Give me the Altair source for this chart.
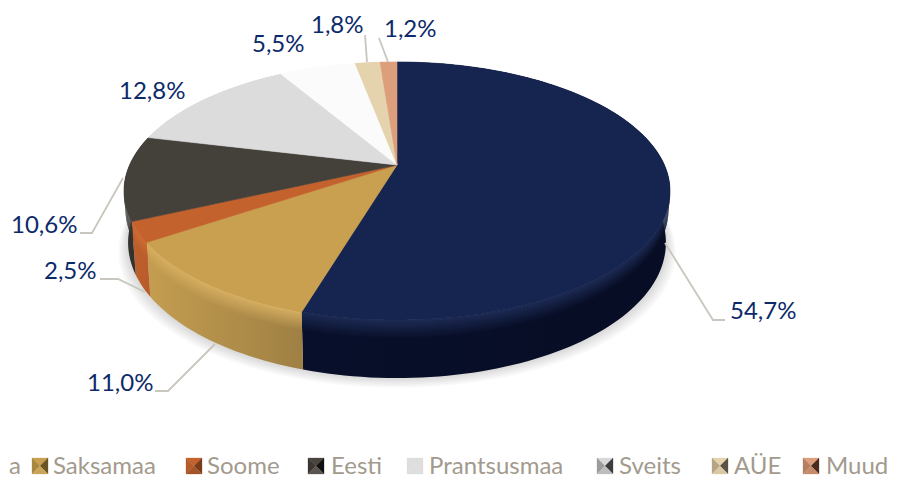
import math
import altair as alt
import pandas as pd

# --- chart values, clockwise from twelve o'clock
names = ["", "Saksamaa", "Soome", "Eesti", "Prantsusmaa", "Sveits", "AÜE", "Muud"]
shares = [54.7, 11.0, 2.5, 10.6, 12.8, 5.5, 1.8, 1.2]

# --- colours
face = ["#15254f", "#c9a050", "#c4622d", "#44403a", "#dcdcdc", "#fbfbfb", "#e5d3ae", "#dd9e7c"]
rim = ["#1d2b55", "#d8b062", "#cf6d36", "#44403a", "#e4e4e4", "#ffffff", "#eadabb", "#e3a888"]
wall_a = ["#080f2a", "#c49d50", "#bf602c", "#33302b", "#bdbdbd", "#dddddd", "#cdbb97", "#c48a6a"]
wall_b = ["#070d24", "#9f8044", "#b85c2b", "#38342f", "#bdbdbd", "#dddddd", "#cdbb97", "#c48a6a"]
facet_top = ["#15254f", "#c9a050", "#c4622d", "#4a453f", "#dedede", "#d8d8d8", "#e5d3ae", "#dd9e7c"]
facet_left = ["#15254f", "#a8873f", "#b55c2a", "#3a3632", "#dedede", "#9c9c9c", "#b5a586", "#b57f61"]
facet_right = ["#0b1330", "#6b5426", "#7a3c1b", "#111111", "#dedede", "#3c3c3c", "#5a5242", "#4a2c1f"]
facet_bottom = ["#2a3860", "#c8a558", "#a5552a", "#5a5550", "#dedede", "#bdbdbd", "#d9c8a3", "#c68c6c"]
label_color = "#0c2a6a"
legend_color = "#a39a8e"
leader_color = "#c9c6bf"

# --- perspective disc model
CX, CY = 397.0, 165.0
AX, BY, P = 267.4, 123.8, 0.2016
WALL, WALL_GROW, WALL_SHRINK = 50.0, 8.0, 0.015

# --- label layout: text left edge, text middle y
label_x = [730, 87, 44, 11, 119, 252, 311, 384]
label_y = [312, 384, 272, 226, 92, 45, 26, 30]
# leader paths as (x, y) waypoints, outer end last on the rim
leaders = [
    [(725, 320), (713, 320), (665, 243)],
    [(155, 391), (168, 391), (215, 344)],
    [(100, 279), (118, 279), (145, 292)],
    [(80, 233), (92, 233), (123, 178)],
    [(365, 35), (367, 62)],
    [(379, 38), (388, 62)],
]
legend_swatch_x = [0, 40, 194, 316, 415, 605, 720, 811]
legend_text_x = [9, 53, 207, 331, 429, 619, 734, 826]
LEG_SWATCH_Y = 466
LEG_TEXT_Y = 474

x_scale = alt.Scale(domain=[8, 889], nice=False, zero=False)
y_scale = alt.Scale(domain=[480, 8], nice=False, zero=False)
X = alt.X("x:Q", scale=x_scale, axis=None)
Y = alt.Y("y:Q", scale=y_scale, axis=None)


def top_pt(deg):
    a = math.radians(deg)
    ux, uy = math.sin(a), math.cos(a)
    d = 1 + P * uy
    return CX + AX * ux / d, CY - BY * uy / d, uy


def wall_pt(deg, t):
    x, y, uy = top_pt(deg)
    return CX + (x - CX) * (1 - WALL_SHRINK * t), y + t * (WALL - WALL_GROW * uy)


def arc(a0, a1):
    n = max(2, int(abs(a1 - a0) / 1.5))
    return [a0 + (a1 - a0) * i / n for i in range(n + 1)]


def poly(points, fill, opacity=1.0, stroke=None):
    df = pd.DataFrame([{"i": i, "x": round(p[0], 2), "y": round(p[1], 2)} for i, p in enumerate(points)])
    kw = dict(interpolate="linear-closed", fill=fill, fillOpacity=opacity,
              stroke=stroke if stroke else "transparent", strokeWidth=0.6 if stroke else 0)
    return alt.Chart(df).mark_line(**kw).encode(x=X, y=Y, order=alt.Order("i:Q"))


def mix(c1, c2, f):
    a = [int(c1[i:i + 2], 16) for i in (1, 3, 5)]
    b = [int(c2[i:i + 2], 16) for i in (1, 3, 5)]
    return "#%02x%02x%02x" % tuple(round(u + (v - u) * f) for u, v in zip(a, b))


def hgrad(c0, c1):
    return alt.LinearGradient(gradient="linear", x1=0, x2=1, y1=0, y2=0,
                              stops=[alt.GradientStop(color=c0, offset=0),
                                     alt.GradientStop(color=c1, offset=1)])


total = sum(shares)
edges = [0.0]
for s in shares:
    edges.append(edges[-1] + s / total * 360)

layers = []

# soft shadow below the disc
for k in range(7):
    grow = 1 + 0.006 * k
    pts = []
    for d in arc(0, 360):
        x, y = wall_pt(d, 1)
        pts.append((CX + (x - CX) * grow, y + 1.6 * k))
    layers.append(poly(pts, "#000000", 0.022))

# walls and rounded rim: colour runs from the rim tone into the wall tone
STRIPS = 12
BEVEL = 0.34
for i in range(len(shares)):
    angles = arc(edges[i], edges[i + 1])
    pts = [wall_pt(d, 0) for d in angles] + [wall_pt(d, 1) for d in reversed(angles)]
    layers.append(poly(pts, hgrad(wall_a[i], wall_b[i])))
    for s in range(STRIPS):
        t0 = BEVEL * s / STRIPS
        t1 = BEVEL * (s + 1.3) / STRIPS
        f = (s + 1) / STRIPS
        f = 0 if s == 0 else f
        pts = [wall_pt(d, t0) for d in angles] + [wall_pt(d, t1) for d in reversed(angles)]
        layers.append(poly(pts, hgrad(mix(rim[i], wall_a[i], f), mix(rim[i], wall_b[i], f))))

# top faces
for i in range(len(shares)):
    angles = arc(edges[i], edges[i + 1])
    pts = [(CX, CY)] + [top_pt(d)[:2] for d in angles]
    layers.append(poly(pts, face[i], stroke=face[i]))

# leaders
for path in leaders:
    df = pd.DataFrame([{"i": i, "x": p[0], "y": p[1]} for i, p in enumerate(path)])
    layers.append(alt.Chart(df).mark_line(color=leader_color, strokeWidth=1.8).encode(
        x=X, y=Y, order=alt.Order("i:Q")))

# value labels
label_text = [f"{s:.1f}".replace(".", ",") + "%" for s in shares]
layers.append(alt.Chart(pd.DataFrame({"x": label_x, "y": label_y, "t": label_text})).mark_text(
    font="Lato", fontSize=24, align="left", baseline="middle", color=label_color
).encode(x=X, y=Y, text="t:N"))

# legend swatches: four-facet pyramids
shapes = {
    "top": "M-1,-1L1,-1L0,0Z",
    "left": "M-1,-1L0,0L-1,1Z",
    "right": "M1,-1L1,1L0,0Z",
    "bottom": "M-1,1L0,0L1,1Z",
}
facets = {"top": facet_top, "left": facet_left, "right": facet_right, "bottom": facet_bottom}
for key, cols in facets.items():
    for i in range(1, len(names)):
        df = pd.DataFrame({"x": [legend_swatch_x[i]], "y": [LEG_SWATCH_Y]})
        layers.append(alt.Chart(df).mark_point(
            shape=shapes[key], size=256, filled=True, fill=cols[i], stroke=cols[i],
            strokeWidth=0.3, opacity=1).encode(x=X, y=Y))

# legend labels
leg_df = pd.DataFrame({"x": legend_text_x, "y": [LEG_TEXT_Y] * len(names), "t": ["a"] + names[1:]})
layers.append(alt.Chart(leg_df).mark_text(
    font="Lato", fontSize=24, align="left", baseline="alphabetic", color=legend_color
).encode(x=X, y=Y, text="t:N"))

chart = alt.layer(*layers).properties(
    width=881, height=472, padding=0, autosize=alt.AutoSizeParams(type="none")
).configure_view(stroke=None)

chart.save("out.html", embed_options={"renderer": "svg", "actions": False})
